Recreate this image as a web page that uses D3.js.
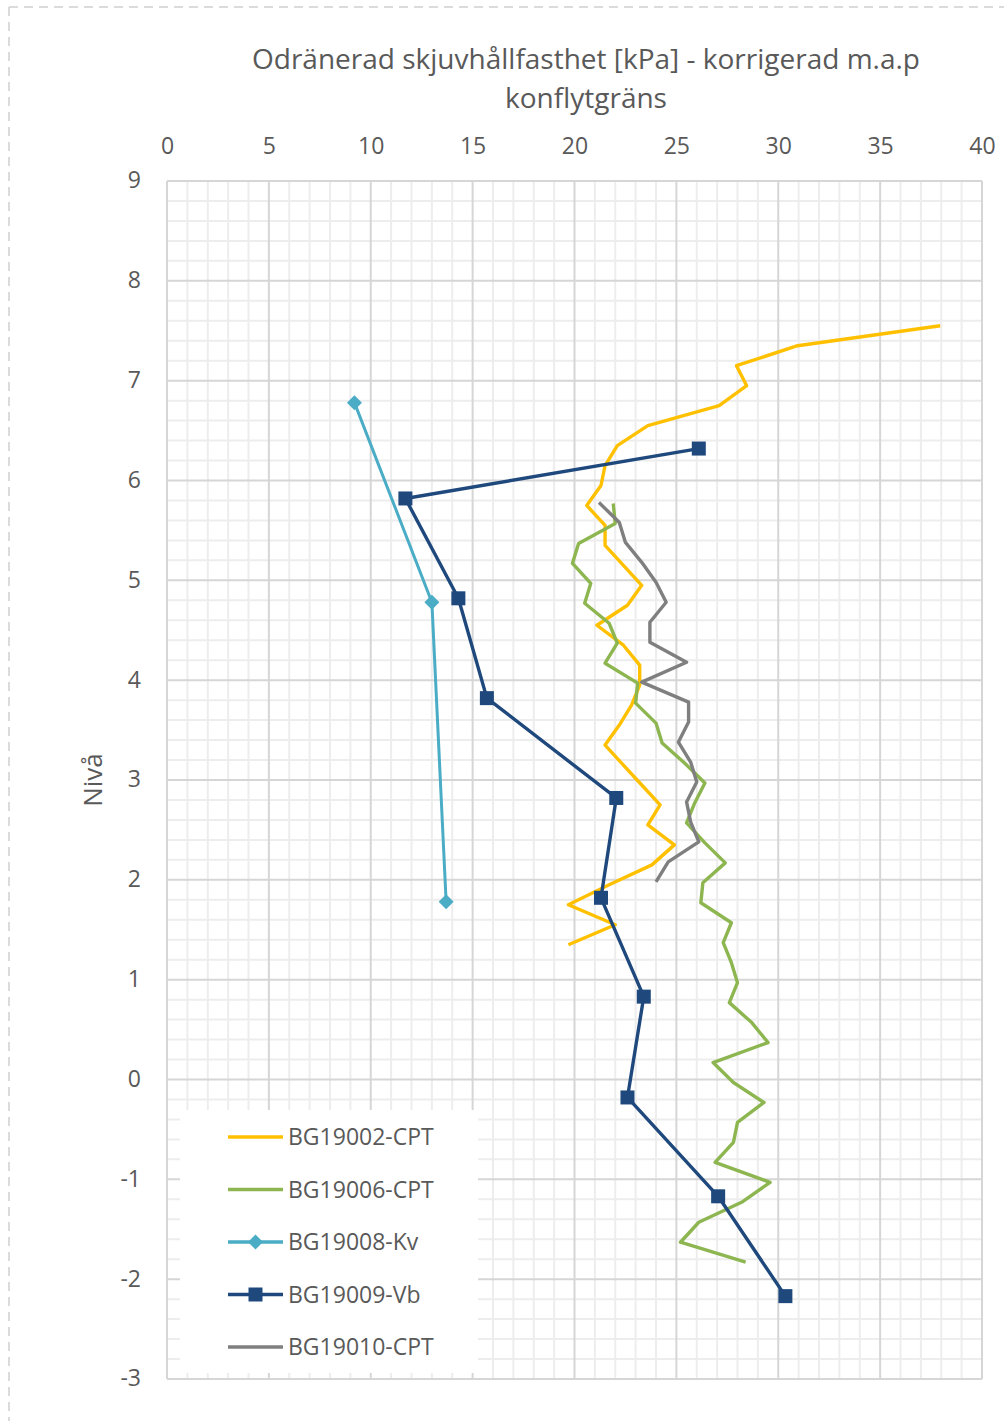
<!DOCTYPE html>
<html>
<head>
<meta charset="utf-8">
<script src="https://cdn.jsdelivr.net/npm/d3@7"></script>
<style>
html,body{margin:0;padding:0;background:#fff;}
svg{display:block;}
text{font-family:"Open Sans",sans-serif;fill:#595959;}
</style>
</head>
<body>
<svg id="chart" width="1004" height="1421"></svg>
<script>
// ---- data ----
const titleLines = ["Odränerad skjuvhållfasthet [kPa] - korrigerad m.a.p", "konflytgräns"];
const yTitle = "Nivå";
const xTicks = [0, 5, 10, 15, 20, 25, 30, 35, 40];
const yTicks = [9, 8, 7, 6, 5, 4, 3, 2, 1, 0, -1, -2, -3];
const seriesNames = ["BG19002-CPT", "BG19006-CPT", "BG19008-Kv", "BG19009-Vb", "BG19010-CPT"];
const seriesColors = ["#FFC000", "#8DB651", "#4BACC6", "#1F497D", "#7F7F7F"];

const bg19002 = [[37.95,7.55],[30.95,7.35],[27.95,7.15],[28.45,6.95],[27.1,6.75],[23.6,6.55],[22.1,6.35],[21.5,6.15],[21.3,5.95],[20.6,5.75],[21.5,5.55],[21.5,5.35],[22.4,5.15],[23.3,4.95],[22.6,4.75],[21.1,4.55],[22.4,4.35],[23.2,4.15],[23.2,3.95],[22.8,3.75],[22.2,3.55],[21.5,3.35],[22.4,3.15],[23.3,2.95],[24.2,2.75],[23.6,2.55],[24.9,2.35],[23.8,2.15],[21.7,1.95],[19.7,1.75],[22.0,1.55],[19.7,1.35]];
const bg19006 = [[21.9,5.77],[22.0,5.57],[20.2,5.37],[19.9,5.17],[20.8,4.97],[20.5,4.77],[21.7,4.57],[22.1,4.37],[21.5,4.17],[23.1,3.97],[23.0,3.77],[24.0,3.57],[24.3,3.37],[25.4,3.17],[26.4,2.97],[25.9,2.77],[25.5,2.57],[26.4,2.37],[27.4,2.17],[26.3,1.97],[26.2,1.77],[27.7,1.57],[27.3,1.37],[27.7,1.17],[28.0,0.97],[27.6,0.77],[28.7,0.57],[29.5,0.37],[26.8,0.17],[27.8,-0.03],[29.3,-0.23],[28.0,-0.43],[27.8,-0.63],[26.9,-0.83],[29.6,-1.03],[28.2,-1.23],[26.1,-1.43],[25.2,-1.63],[28.4,-1.83]];
const bg19008 = [[9.2,6.78],[13.0,4.78],[13.7,1.78]];
const bg19009 = [[26.1,6.32],[11.7,5.82],[14.3,4.82],[15.7,3.82],[22.05,2.82],[21.3,1.82],[23.4,0.83],[22.6,-0.18],[27.05,-1.17],[30.35,-2.17]];
const bg19010 = [[21.2,5.78],[22.2,5.58],[22.5,5.38],[23.3,5.18],[24.0,4.98],[24.5,4.78],[23.7,4.58],[23.7,4.38],[25.5,4.18],[23.3,3.98],[25.6,3.78],[25.6,3.58],[25.1,3.38],[25.7,3.18],[26.0,2.98],[25.5,2.78],[25.7,2.58],[26.1,2.38],[24.6,2.18],[24.0,1.98]];
const seriesData = [bg19002, bg19006, bg19008, bg19009, bg19010];
const seriesMarkers = [null, null, "diamond", "square", null];

// ---- drawing ----
const svg = d3.select("#chart");
const x = d3.scaleLinear().domain([0, 40]).range([167, 982]);
const y = d3.scaleLinear().domain([-3, 9]).range([1379, 181]);

// outer dashed frame
svg.append("line").attr("x1", 9).attr("x2", 1004).attr("y1", 7).attr("y2", 7)
  .attr("stroke", "#D0D0D0").attr("stroke-width", 1.5).attr("stroke-dasharray", "9,6");
svg.append("line").attr("x1", 9).attr("x2", 9).attr("y1", 7).attr("y2", 1421)
  .attr("stroke", "#D0D0D0").attr("stroke-width", 1.5).attr("stroke-dasharray", "9,6");

// title
svg.append("text").attr("x", 586).attr("y", 69).attr("text-anchor", "middle")
  .attr("font-size", 28).text(titleLines[0]);
svg.append("text").attr("x", 586).attr("y", 108).attr("text-anchor", "middle")
  .attr("font-size", 28).text(titleLines[1]);

// grid
const grid = svg.append("g");
const minorX = d3.range(0, 41, 1).filter(v => v % 5 !== 0);
const minorY = d3.range(-3, 9.001, 0.2).map(v => +v.toFixed(1)).filter(v => Math.abs(v - Math.round(v)) > 1e-6);
grid.selectAll(".mx").data(minorX).enter().append("line")
  .attr("x1", d => x(d)).attr("x2", d => x(d)).attr("y1", y(9)).attr("y2", y(-3))
  .attr("stroke", "#EDEDED").attr("stroke-width", 2);
grid.selectAll(".my").data(minorY).enter().append("line")
  .attr("y1", d => y(d)).attr("y2", d => y(d)).attr("x1", x(0)).attr("x2", x(40))
  .attr("stroke", "#EDEDED").attr("stroke-width", 2);
grid.selectAll(".Mx").data(xTicks).enter().append("line")
  .attr("x1", d => x(d)).attr("x2", d => x(d)).attr("y1", y(9)).attr("y2", y(-3))
  .attr("stroke", "#D6D6D6").attr("stroke-width", 2);
grid.selectAll(".My").data(yTicks).enter().append("line")
  .attr("y1", d => y(d)).attr("y2", d => y(d)).attr("x1", x(0)).attr("x2", x(40))
  .attr("stroke", "#D6D6D6").attr("stroke-width", 2);

// axes (labels only)
const fmt = d => String(d);
const xAxis = svg.append("g").attr("transform", `translate(0,${y(9) - 27})`)
  .call(d3.axisTop(x).tickValues(xTicks).tickFormat(fmt).tickSize(0).tickPadding(0));
xAxis.select(".domain").remove();
xAxis.selectAll("text").attr("font-size", 23).attr("fill", "#595959")
  .attr("font-family", "Open Sans");
const yAxis = svg.append("g").attr("transform", `translate(${x(0) - 26},0)`)
  .call(d3.axisLeft(y).tickValues(yTicks).tickFormat(fmt).tickSize(0).tickPadding(0));
yAxis.select(".domain").remove();
yAxis.selectAll("text").attr("font-size", 23).attr("fill", "#595959")
  .attr("font-family", "Open Sans").attr("dy", "0.3em");

svg.append("text").attr("transform", "translate(102,780) rotate(-90)")
  .attr("text-anchor", "middle").attr("font-size", 26).text(yTitle);

// series
const line = d3.line().x(d => x(d[0])).y(d => y(d[1]));
const plot = svg.append("g");
function drawMarker(g, type, cx, cy, color) {
  if (type === "square") {
    g.append("rect").attr("x", cx - 7).attr("y", cy - 7).attr("width", 14).attr("height", 14)
      .attr("fill", color);
  } else if (type === "diamond") {
    g.append("path").attr("d", `M${cx},${cy - 7.5}L${cx + 7.5},${cy}L${cx},${cy + 7.5}L${cx - 7.5},${cy}Z`)
      .attr("fill", color);
  }
}
seriesData.forEach((data, i) => {
  plot.append("path").datum(data).attr("d", line).attr("fill", "none")
    .attr("stroke", seriesColors[i]).attr("stroke-width", i === 2 ? 3 : 3.4)
    .attr("stroke-linejoin", "round");
  if (seriesMarkers[i]) {
    data.forEach(d => drawMarker(plot, seriesMarkers[i], x(d[0]), y(d[1]), seriesColors[i]));
  }
});

// legend
const lg = svg.append("g");
lg.append("rect").attr("x", 180).attr("y", 1110).attr("width", 298).attr("height", 263).attr("fill", "#fff");
seriesNames.forEach((name, i) => {
  const cy = 1137 + i * 52.5;
  lg.append("line").attr("x1", 228).attr("x2", 283).attr("y1", cy).attr("y2", cy)
    .attr("stroke", seriesColors[i]).attr("stroke-width", 3.4);
  if (seriesMarkers[i]) drawMarker(lg, seriesMarkers[i], 255.5, cy, seriesColors[i]);
  lg.append("text").attr("x", 288).attr("y", cy + 8).attr("font-size", 23).text(name);
});
</script>
</body>
</html>
